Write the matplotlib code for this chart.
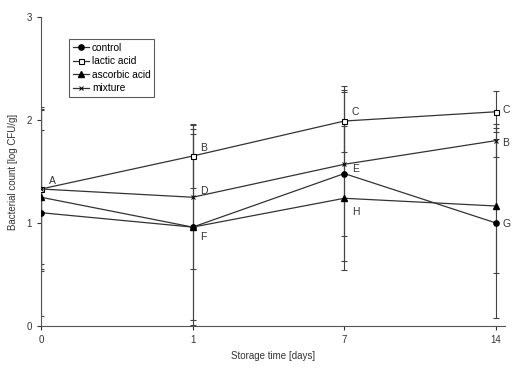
import matplotlib
matplotlib.use("Agg")
import matplotlib.pyplot as plt
import numpy as np

plt.rcParams['font.family'] = ['Liberation Sans', 'DejaVu Sans']

days = ["0", "1", "7", "14"]
control = [1.10, 0.96, 1.48, 1.00]
control_err = [1.00, 0.90, 0.85, 0.92]
lactic = [1.33, 1.65, 1.99, 2.08]
lactic_err = [0.78, 0.31, 0.30, 0.20]
ascorbic = [1.25, 0.96, 1.24, 1.165]
ascorbic_err = [0.65, 0.95, 0.70, 0.65]
mixture = [1.33, 1.25, 1.57, 1.80]
mixture_err = [0.80, 0.70, 0.70, 0.16]

letters = [
    (0, 1.33, "A", 0.05, 0.08),
    (1, 1.65, "B", 0.05, 0.08),
    (1, 1.25, "D", 0.05, 0.06),
    (1, 0.96, "F", 0.05, -0.10),
    (2, 1.99, "C", 0.05, 0.09),
    (2, 1.57, "E", 0.05, -0.05),
    (2, 1.24, "H", 0.05, -0.13),
    (3, 2.08, "C", 0.04, 0.02),
    (3, 1.80, "B", 0.04, -0.02),
    (3, 1.00, "G", 0.04, -0.01),
]

fig = plt.figure(figsize=(5.27, 3.73), dpi=100)
ax = fig.add_axes([41/527, 1 - 326/373, (505-41)/527, (326-17)/373])

x = np.arange(len(days))
lc = "#333333"
series = [
    ("control", control, control_err, dict(marker="o", mfc="black", mec="black", ms=3.8)),
    ("lactic acid", lactic, lactic_err, dict(marker="s", mfc="white", mec="black", ms=3.6, mew=0.8)),
    ("ascorbic acid", ascorbic, ascorbic_err, dict(marker="^", mfc="black", mec="black", ms=4.2)),
    ("mixture", mixture, mixture_err, dict(marker="x", mfc="black", mec="black", ms=3.5, mew=0.7)),
]
for name, vals, err, mk in series:
    ax.errorbar(x, vals, yerr=err, fmt="none", ecolor="#444444", elinewidth=0.8,
                capsize=2.5, capthick=0.8)
for name, vals, err, mk in series:
    ax.plot(x, vals, color=lc, lw=0.9, label=name, zorder=3, **mk)

for xi, yi, t, dx, dy in letters:
    ax.text(xi + dx, yi + dy, t, fontsize=7.5, color="#333333", va="center", ha="left")

ax.set_xlim(0, (505-41)/((496-41)/3))
ax.set_ylim(0, 3)
ax.set_xticks(x)
ax.set_xticklabels(days)
ax.set_yticks([0, 1, 2, 3])
ax.tick_params(axis="both", labelsize=7, colors="#333333", length=3, width=0.8)
for s in ["top", "right"]:
    ax.spines[s].set_visible(False)
for s in ["left", "bottom"]:
    ax.spines[s].set_color("#555555")
    ax.spines[s].set_linewidth(0.8)
ax.set_xlabel("Storage time [days]", fontsize=7, color="#333333", labelpad=4)
ax.set_ylabel("Bacterial count [log CFU/g]", fontsize=7, color="#333333", labelpad=6)

leg = ax.legend(loc="upper left", bbox_to_anchor=(28/464, 1 - 22/309), fontsize=7.3,
                frameon=True, fancybox=False, handlelength=1.6, handletextpad=0.3,
                borderpad=0.35, labelspacing=0.35, borderaxespad=0)
leg.get_frame().set_edgecolor("#333333")
leg.get_frame().set_linewidth(0.8)

fig.savefig("out.png", dpi=100)
